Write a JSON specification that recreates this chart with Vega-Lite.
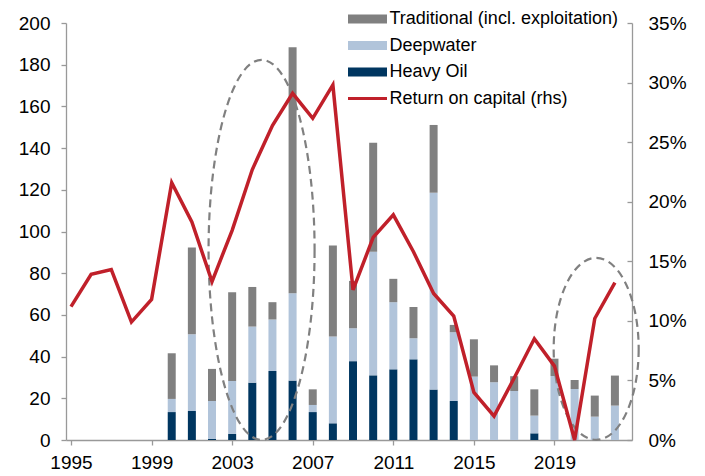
{
  "$schema": "https://vega.github.io/schema/vega-lite/v6.json",
  "width": 566,
  "height": 417,
  "autosize": "none",
  "padding": {"left": 66, "top": 23, "right": 73, "bottom": 36},
  "config": {
    "view": {"stroke": null},
    "font": "Liberation Sans",
    "axis": {"labelFont": "Liberation Sans", "labelFontSize": 19, "labelColor": "#000000", "domainColor": "#999999", "tickColor": "#999999", "domainWidth": 1.3, "tickWidth": 1.3, "grid": false, "title": null}
  },
  "datasets": {
    "capex": [
      {"year": 2000, "type": "Heavy Oil", "rank": 1, "capex": 13.4},
      {"year": 2000, "type": "Deepwater", "rank": 2, "capex": 6.3},
      {"year": 2000, "type": "Traditional (incl. exploitation)", "rank": 3, "capex": 21.9},
      {"year": 2001, "type": "Heavy Oil", "rank": 1, "capex": 13.9},
      {"year": 2001, "type": "Deepwater", "rank": 2, "capex": 36.8},
      {"year": 2001, "type": "Traditional (incl. exploitation)", "rank": 3, "capex": 41.6},
      {"year": 2002, "type": "Heavy Oil", "rank": 1, "capex": 0.5},
      {"year": 2002, "type": "Deepwater", "rank": 2, "capex": 18.2},
      {"year": 2002, "type": "Traditional (incl. exploitation)", "rank": 3, "capex": 15.4},
      {"year": 2003, "type": "Heavy Oil", "rank": 1, "capex": 2.9},
      {"year": 2003, "type": "Deepwater", "rank": 2, "capex": 25.4},
      {"year": 2003, "type": "Traditional (incl. exploitation)", "rank": 3, "capex": 42.6},
      {"year": 2004, "type": "Heavy Oil", "rank": 1, "capex": 27.5},
      {"year": 2004, "type": "Deepwater", "rank": 2, "capex": 26.9},
      {"year": 2004, "type": "Traditional (incl. exploitation)", "rank": 3, "capex": 19.0},
      {"year": 2005, "type": "Heavy Oil", "rank": 1, "capex": 33.1},
      {"year": 2005, "type": "Deepwater", "rank": 2, "capex": 24.7},
      {"year": 2005, "type": "Traditional (incl. exploitation)", "rank": 3, "capex": 8.3},
      {"year": 2006, "type": "Heavy Oil", "rank": 1, "capex": 28.5},
      {"year": 2006, "type": "Deepwater", "rank": 2, "capex": 41.9},
      {"year": 2006, "type": "Traditional (incl. exploitation)", "rank": 3, "capex": 118.0},
      {"year": 2007, "type": "Heavy Oil", "rank": 1, "capex": 13.4},
      {"year": 2007, "type": "Deepwater", "rank": 2, "capex": 3.4},
      {"year": 2007, "type": "Traditional (incl. exploitation)", "rank": 3, "capex": 7.5},
      {"year": 2008, "type": "Heavy Oil", "rank": 1, "capex": 8.0},
      {"year": 2008, "type": "Deepwater", "rank": 2, "capex": 41.6},
      {"year": 2008, "type": "Traditional (incl. exploitation)", "rank": 3, "capex": 43.7},
      {"year": 2009, "type": "Heavy Oil", "rank": 1, "capex": 37.8},
      {"year": 2009, "type": "Deepwater", "rank": 2, "capex": 15.8},
      {"year": 2009, "type": "Traditional (incl. exploitation)", "rank": 3, "capex": 22.7},
      {"year": 2010, "type": "Heavy Oil", "rank": 1, "capex": 31.0},
      {"year": 2010, "type": "Deepwater", "rank": 2, "capex": 59.3},
      {"year": 2010, "type": "Traditional (incl. exploitation)", "rank": 3, "capex": 52.3},
      {"year": 2011, "type": "Heavy Oil", "rank": 1, "capex": 33.9},
      {"year": 2011, "type": "Deepwater", "rank": 2, "capex": 32.2},
      {"year": 2011, "type": "Traditional (incl. exploitation)", "rank": 3, "capex": 11.2},
      {"year": 2012, "type": "Heavy Oil", "rank": 1, "capex": 38.7},
      {"year": 2012, "type": "Deepwater", "rank": 2, "capex": 10.1},
      {"year": 2012, "type": "Traditional (incl. exploitation)", "rank": 3, "capex": 15.0},
      {"year": 2013, "type": "Heavy Oil", "rank": 1, "capex": 24.2},
      {"year": 2013, "type": "Deepwater", "rank": 2, "capex": 94.4},
      {"year": 2013, "type": "Traditional (incl. exploitation)", "rank": 3, "capex": 32.5},
      {"year": 2014, "type": "Heavy Oil", "rank": 1, "capex": 18.7},
      {"year": 2014, "type": "Deepwater", "rank": 2, "capex": 33.0},
      {"year": 2014, "type": "Traditional (incl. exploitation)", "rank": 3, "capex": 3.5},
      {"year": 2015, "type": "Deepwater", "rank": 2, "capex": 30.4},
      {"year": 2015, "type": "Traditional (incl. exploitation)", "rank": 3, "capex": 17.9},
      {"year": 2016, "type": "Deepwater", "rank": 2, "capex": 27.7},
      {"year": 2016, "type": "Traditional (incl. exploitation)", "rank": 3, "capex": 8.1},
      {"year": 2017, "type": "Deepwater", "rank": 2, "capex": 23.5},
      {"year": 2017, "type": "Traditional (incl. exploitation)", "rank": 3, "capex": 7.1},
      {"year": 2018, "type": "Heavy Oil", "rank": 1, "capex": 3.2},
      {"year": 2018, "type": "Deepwater", "rank": 2, "capex": 8.5},
      {"year": 2018, "type": "Traditional (incl. exploitation)", "rank": 3, "capex": 12.6},
      {"year": 2019, "type": "Deepwater", "rank": 2, "capex": 30.7},
      {"year": 2019, "type": "Traditional (incl. exploitation)", "rank": 3, "capex": 8.3},
      {"year": 2020, "type": "Deepwater", "rank": 2, "capex": 24.5},
      {"year": 2020, "type": "Traditional (incl. exploitation)", "rank": 3, "capex": 4.3},
      {"year": 2021, "type": "Deepwater", "rank": 2, "capex": 11.2},
      {"year": 2021, "type": "Traditional (incl. exploitation)", "rank": 3, "capex": 10.1},
      {"year": 2022, "type": "Deepwater", "rank": 2, "capex": 16.5},
      {"year": 2022, "type": "Traditional (incl. exploitation)", "rank": 3, "capex": 14.4}
    ],
    "roc": [
      {"year": 1995, "roc": 11.2},
      {"year": 1996, "roc": 13.9},
      {"year": 1997, "roc": 14.3},
      {"year": 1998, "roc": 9.9},
      {"year": 1999, "roc": 11.8},
      {"year": 2000, "roc": 21.6},
      {"year": 2001, "roc": 18.3},
      {"year": 2002, "roc": 13.3},
      {"year": 2003, "roc": 17.6},
      {"year": 2004, "roc": 22.7},
      {"year": 2005, "roc": 26.4},
      {"year": 2006, "roc": 29.1},
      {"year": 2007, "roc": 27.0},
      {"year": 2008, "roc": 29.8},
      {"year": 2009, "roc": 12.6},
      {"year": 2010, "roc": 17.0},
      {"year": 2011, "roc": 18.9},
      {"year": 2012, "roc": 15.8},
      {"year": 2013, "roc": 12.3},
      {"year": 2014, "roc": 10.4},
      {"year": 2015, "roc": 4.0},
      {"year": 2016, "roc": 2.0},
      {"year": 2017, "roc": 5.2},
      {"year": 2018, "roc": 8.5},
      {"year": 2019, "roc": 6.2},
      {"year": 2020, "roc": 0.0},
      {"year": 2021, "roc": 10.2},
      {"year": 2022, "roc": 13.2}
    ],
    "ellipseA": [{"year": 2004.46, "capex": 91.2}],
    "ellipseB": [{"year": 2021.07, "capex": 43.7}]
  },
  "layer": [
    {
      "layer": [
        {
          "data": {"name": "capex"},
          "mark": {"type": "bar", "width": 8},
          "encoding": {
            "x": {"field": "year", "type": "quantitative", "scale": {"domain": [1995, 2022.6], "nice": false, "zero": false},
                  "axis": {"values": [1995, 1999, 2003, 2007, 2011, 2015, 2019], "format": "d", "tickSize": 5, "labelPadding": 8, "labelFlush": false}},
            "y": {"field": "capex", "type": "quantitative", "stack": "zero", "scale": {"domain": [0, 200], "nice": false},
                  "axis": {"orient": "left", "values": [0, 20, 40, 60, 80, 100, 120, 140, 160, 180, 200], "tickSize": 5, "labelPadding": 11}},
            "order": {"field": "rank", "type": "quantitative"},
            "color": {
              "field": "type", "type": "nominal",
              "scale": {"domain": ["Traditional (incl. exploitation)", "Deepwater", "Heavy Oil", "Return on capital (rhs)"],
                        "range": ["#808080", "#b1c4da", "#003660", "#c0202a"]},
              "legend": {
                "title": null, "orient": "none", "legendX": 292.5, "legendY": -13,
                "symbolSize": 400, "rowPadding": 8.5, "labelOffset": 13,
                "labelFont": "Liberation Sans", "labelFontSize": 18, "labelColor": "#000000", "labelLimit": 0,
                "encode": {"symbols": {"update": {
                  "shape": {"signal": "datum.label === 'Return on capital (rhs)' ? 'M -1.95 0 L 1.95 0' : 'M -1.95 -0.45 L 1.95 -0.45 L 1.95 0.45 L -1.95 0.45 Z'"},
                  "fill": {"signal": "datum.label === 'Return on capital (rhs)' ? 'transparent' : scale('color', datum.value)"},
                  "stroke": {"signal": "scale('color', datum.value)"},
                  "strokeWidth": {"signal": "datum.label === 'Return on capital (rhs)' ? 3 : 0"},
                  "opacity": {"value": 1}
                }}}
              }
            }
          }
        },
        {
          "data": {"name": "ellipseA"},
          "mark": {"type": "point", "shape": "M 0.279 0 C 0.279 0.552 0.154 1 0 1 C -0.154 1 -0.279 0.552 -0.279 0 C -0.279 -0.552 -0.154 -1 0 -1 C 0.154 -1 0.279 -0.552 0.279 0 Z",
                   "size": 144400, "filled": false, "stroke": "#808080", "strokeWidth": 2.2, "strokeDash": [8, 5], "opacity": 1},
          "encoding": {
            "x": {"field": "year", "type": "quantitative", "scale": {"domain": [1995, 2022.6], "nice": false, "zero": false}},
            "y": {"field": "capex", "type": "quantitative", "scale": {"domain": [0, 200], "nice": false}}
          }
        },
        {
          "data": {"name": "ellipseB"},
          "mark": {"type": "point", "shape": "M 0.467 0 C 0.467 0.552 0.258 1 0 1 C -0.258 1 -0.467 0.552 -0.467 0 C -0.467 -0.552 -0.258 -1 0 -1 C 0.258 -1 0.467 -0.552 0.467 0 Z",
                   "size": 33124, "filled": false, "stroke": "#808080", "strokeWidth": 2.2, "strokeDash": [8, 5], "opacity": 1},
          "encoding": {
            "x": {"field": "year", "type": "quantitative", "scale": {"domain": [1995, 2022.6], "nice": false, "zero": false}},
            "y": {"field": "capex", "type": "quantitative", "scale": {"domain": [0, 200], "nice": false}}
          }
        }
      ]
    },
    {
      "data": {"name": "roc"},
      "mark": {"type": "line", "strokeWidth": 3.5, "strokeJoin": "miter", "strokeCap": "butt"},
      "encoding": {
        "x": {"field": "year", "type": "quantitative", "scale": {"domain": [1995, 2022.6], "nice": false, "zero": false}},
        "y": {"field": "roc", "type": "quantitative", "scale": {"domain": [0, 35], "nice": false},
              "axis": {"orient": "right", "values": [0, 5, 10, 15, 20, 25, 30, 35], "labelExpr": "datum.value + '%'", "tickSize": -5, "labelPadding": 21}},
        "color": {"datum": "Return on capital (rhs)"}
      }
    }
  ],
  "resolve": {"scale": {"y": "independent"}}
}
